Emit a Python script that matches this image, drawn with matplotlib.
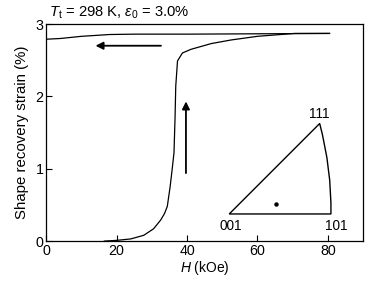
import matplotlib.pyplot as plt
from matplotlib.path import Path
from matplotlib.patches import PathPatch

plt.rcParams['font.family'] = ['Liberation Sans', 'DejaVu Sans']
plt.rcParams['mathtext.fontset'] = 'custom'
plt.rcParams['mathtext.rm'] = 'Liberation Sans'
plt.rcParams['mathtext.it'] = 'Liberation Sans:italic'

# loading curve (field increasing)
h_up = [16.5, 20, 24, 27.7, 30.5, 32.5, 33.6, 34.4, 35.2, 35.8, 36.3, 36.6, 36.8, 37.3,
        38.7, 41.1, 46.9, 52.6, 60, 70.6, 80.5]
s_up = [0.0, 0.01, 0.03, 0.08, 0.17, 0.29, 0.38, 0.48, 0.75, 1.0, 1.22, 1.7, 2.14, 2.49,
        2.60, 2.65, 2.73, 2.78, 2.83, 2.87, 2.87]
# unloading curve (field decreasing)
h_down = [80.5, 60, 40, 25, 18, 10, 4, 0]
s_down = [2.87, 2.865, 2.86, 2.86, 2.855, 2.83, 2.80, 2.79]

# inset stereographic triangle (data units of main axes)
tri_001 = (52.0, 0.375)
tri_101 = (80.9, 0.375)
tri_111 = (77.7, 1.625)
tri_bulge = (81.1, 1.0)
dot = (65.4, 0.51)

fig = plt.figure(figsize=(3.67, 2.86), dpi=100)
ax = fig.add_axes([0.126, 0.157, 0.863, 0.759])

ax.plot(h_up, s_up, color='black', lw=0.9)
ax.plot(h_down, s_down, color='black', lw=0.9)

# arrows
ax.annotate('', xy=(14, 2.70), xytext=(32.6, 2.70),
            arrowprops=dict(arrowstyle='-|>', color='black', lw=1.3,
                            mutation_scale=11, shrinkA=0, shrinkB=0))
ax.annotate('', xy=(39.7, 1.93), xytext=(39.7, 0.94),
            arrowprops=dict(arrowstyle='-|>', color='black', lw=1.3,
                            mutation_scale=11, shrinkA=0, shrinkB=0))

# triangle
verts = [tri_111, tri_001, tri_101, tri_bulge, tri_111]
codes = [Path.MOVETO, Path.LINETO, Path.LINETO, Path.CURVE3, Path.CURVE3]
ax.add_patch(PathPatch(Path(verts, codes), facecolor='none', edgecolor='black', lw=1.0))
ax.plot(*dot, 'o', color='black', ms=2.2)
ax.text(tri_001[0] + 0.5, tri_001[1] - 0.07, '001', ha='center', va='top', fontsize=9.8)
ax.text(tri_101[0] + 1.5, tri_101[1] - 0.07, '101', ha='center', va='top', fontsize=9.8)
ax.text(tri_111[0], tri_111[1] + 0.04, '111', ha='center', va='bottom', fontsize=9.8)

ax.set_xlim(0, 90)
ax.set_ylim(0, 3)
ax.set_xticks([0, 20, 40, 60, 80])
ax.set_yticks([0, 1, 2, 3])
ax.tick_params(direction='in', length=4, width=0.8, labelsize=10.3, pad=2)
for sp in ax.spines.values():
    sp.set_linewidth(0.9)

ax.set_xlabel('$H$ (kOe)', fontsize=10, labelpad=1)
ax.set_ylabel('Shape recovery strain (%)', fontsize=10.8, labelpad=5)
ax.text(0.01, 1.015, r'$T_\mathrm{t}$ = 298 K, $\varepsilon_0$ = 3.0%',
        transform=ax.transAxes, fontsize=10.6, ha='left', va='bottom')

fig.savefig('out.png', dpi=100)
